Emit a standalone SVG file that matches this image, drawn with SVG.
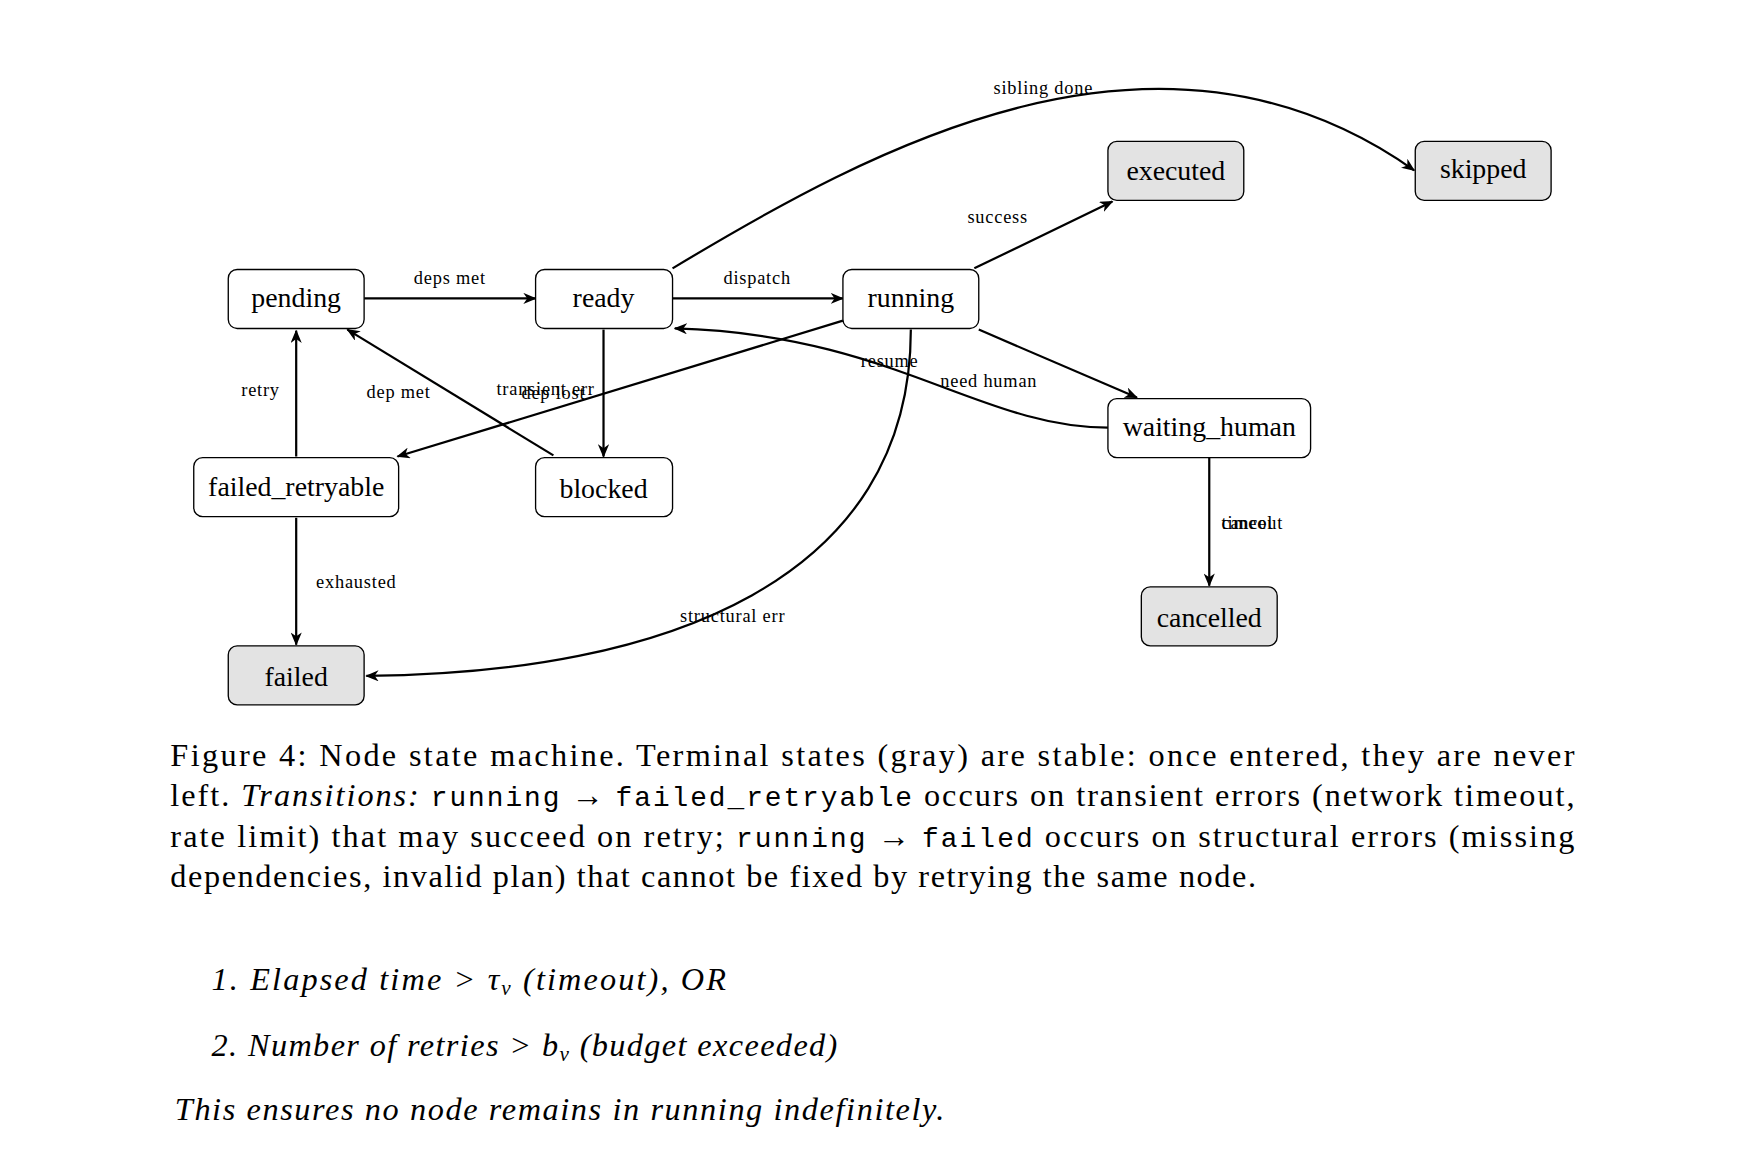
<svg xmlns="http://www.w3.org/2000/svg" width="1746" height="1151" viewBox="0 0 1746 1151">
<style>
.n rect{fill:#fff;stroke:#000;stroke-width:1.2}
.t rect{fill:#e3e3e3}
.n text{font-family:"Liberation Serif",serif;font-size:25px;text-anchor:middle}
.e path{fill:none;stroke:#000;stroke-width:2;marker-end:url(#a)}
.e text{font-family:"Liberation Serif",serif;font-size:16.5px;letter-spacing:0.7px;text-anchor:middle}
.c{font-family:"Liberation Serif",serif;font-size:29px}
.m{font-family:"Liberation Mono",monospace;font-size:25px}
.i{font-style:italic}
</style>
<defs><marker id="a" viewBox="0 0 12 10" refX="11" refY="5" markerWidth="12" markerHeight="10" orient="auto" markerUnits="userSpaceOnUse"><path d="M0,0 L12,5 L0,10 L3.5,5 Z" fill="#000"/></marker></defs>
<rect width="1746" height="1151" fill="#fff"/>
<g transform="scale(1.1135)">
<g id="edges" class="e">
<path d="M327,268 L481,268"/><text x="404" y="255">deps met</text>
<path d="M604,268 L757,268"/><text x="680" y="255">dispatch</text>
<path d="M875,241 L999,181"/><text x="896" y="200">success</text>
<path d="M879,296 L1021,357"/><text x="888" y="348">need human</text>
<path d="M604,241 C780,135 1040,-10 1270,153"/><text x="937" y="84">sibling done</text>
<path d="M542,296 L542,410"/><text x="497" y="358">dep lost</text>
<path d="M497,409 L312,296"/><text x="358" y="357">dep met</text>
<path d="M266,410 L266,297"/><text x="234" y="356">retry</text>
<path d="M757,288 L357,410"/><text x="490" y="355">transient err</text>
<path d="M995,384 C880,384 800,300 606,295"/><text x="799" y="330">resume</text>
<path d="M818,296 C818,520 600,605 329,607"/><text x="658" y="559">structural err</text>
<path d="M266,465 L266,579"/><text x="320" y="528">exhausted</text>
<path d="M1086,411 L1086,526"/><text x="1097" y="475" style="text-anchor:start">timeout</text><text x="1097" y="475" style="text-anchor:start">cancel</text>
</g>
<g id="pending" class="n"><rect x="205" y="242" width="122" height="53" rx="8"/><text x="266" y="276">pending</text></g>
<g id="ready" class="n"><rect x="481" y="242" width="123" height="53" rx="8"/><text x="542" y="276">ready</text></g>
<g id="running" class="n"><rect x="757" y="242" width="122" height="53" rx="8"/><text x="818" y="276">running</text></g>
<g id="executed" class="n t"><rect x="995" y="127" width="122" height="53" rx="8"/><text x="1056" y="162">executed</text></g>
<g id="skipped" class="n t"><rect x="1271" y="127" width="122" height="53" rx="8"/><text x="1332" y="160">skipped</text></g>
<g id="waiting_human" class="n"><rect x="995" y="358" width="182" height="53" rx="8"/><text x="1086" y="392">waiting_human</text></g>
<g id="failed_retryable" class="n"><rect x="174" y="411" width="184" height="53" rx="8"/><text x="266" y="445">failed_retryable</text></g>
<g id="blocked" class="n"><rect x="481" y="411" width="123" height="53" rx="8"/><text x="542" y="447">blocked</text></g>
<g id="cancelled" class="n t"><rect x="1025" y="527" width="122" height="53" rx="8"/><text x="1086" y="563">cancelled</text></g>
<g id="failed" class="n t"><rect x="205" y="580" width="122" height="53" rx="8"/><text x="266" y="616">failed</text></g>
<g id="caption">
<text class="c" x="153" y="688" textLength="1261" lengthAdjust="spacing">Figure 4:  Node state machine.  Terminal states (gray) are stable:  once entered, they are never</text>
<text class="c" x="153" y="724" textLength="1261" lengthAdjust="spacing">left.  <tspan class="i">Transitions:</tspan> <tspan class="m">running</tspan> → <tspan class="m">failed_retryable</tspan> occurs on transient errors (network timeout,</text>
<text class="c" x="153" y="761" textLength="1261" lengthAdjust="spacing">rate limit) that may succeed on retry; <tspan class="m">running</tspan> → <tspan class="m">failed</tspan> occurs on structural errors (missing</text>
<text class="c" x="153" y="797" textLength="975" lengthAdjust="spacing">dependencies, invalid plan) that cannot be fixed by retrying the same node.</text>
<text class="c i" x="190" y="889" textLength="462" lengthAdjust="spacing">1.  Elapsed time &gt; τ<tspan font-size="19" dy="5">v</tspan><tspan dy="-5"> (timeout), OR</tspan></text>
<text class="c i" x="190" y="948" textLength="562" lengthAdjust="spacing">2.  Number of retries &gt; b<tspan font-size="19" dy="5">v</tspan><tspan dy="-5"> (budget exceeded)</tspan></text>
<text class="c i" x="157" y="1006" textLength="691" lengthAdjust="spacing">This ensures no node remains in running indefinitely.</text>
</g>
</g>
</svg>
